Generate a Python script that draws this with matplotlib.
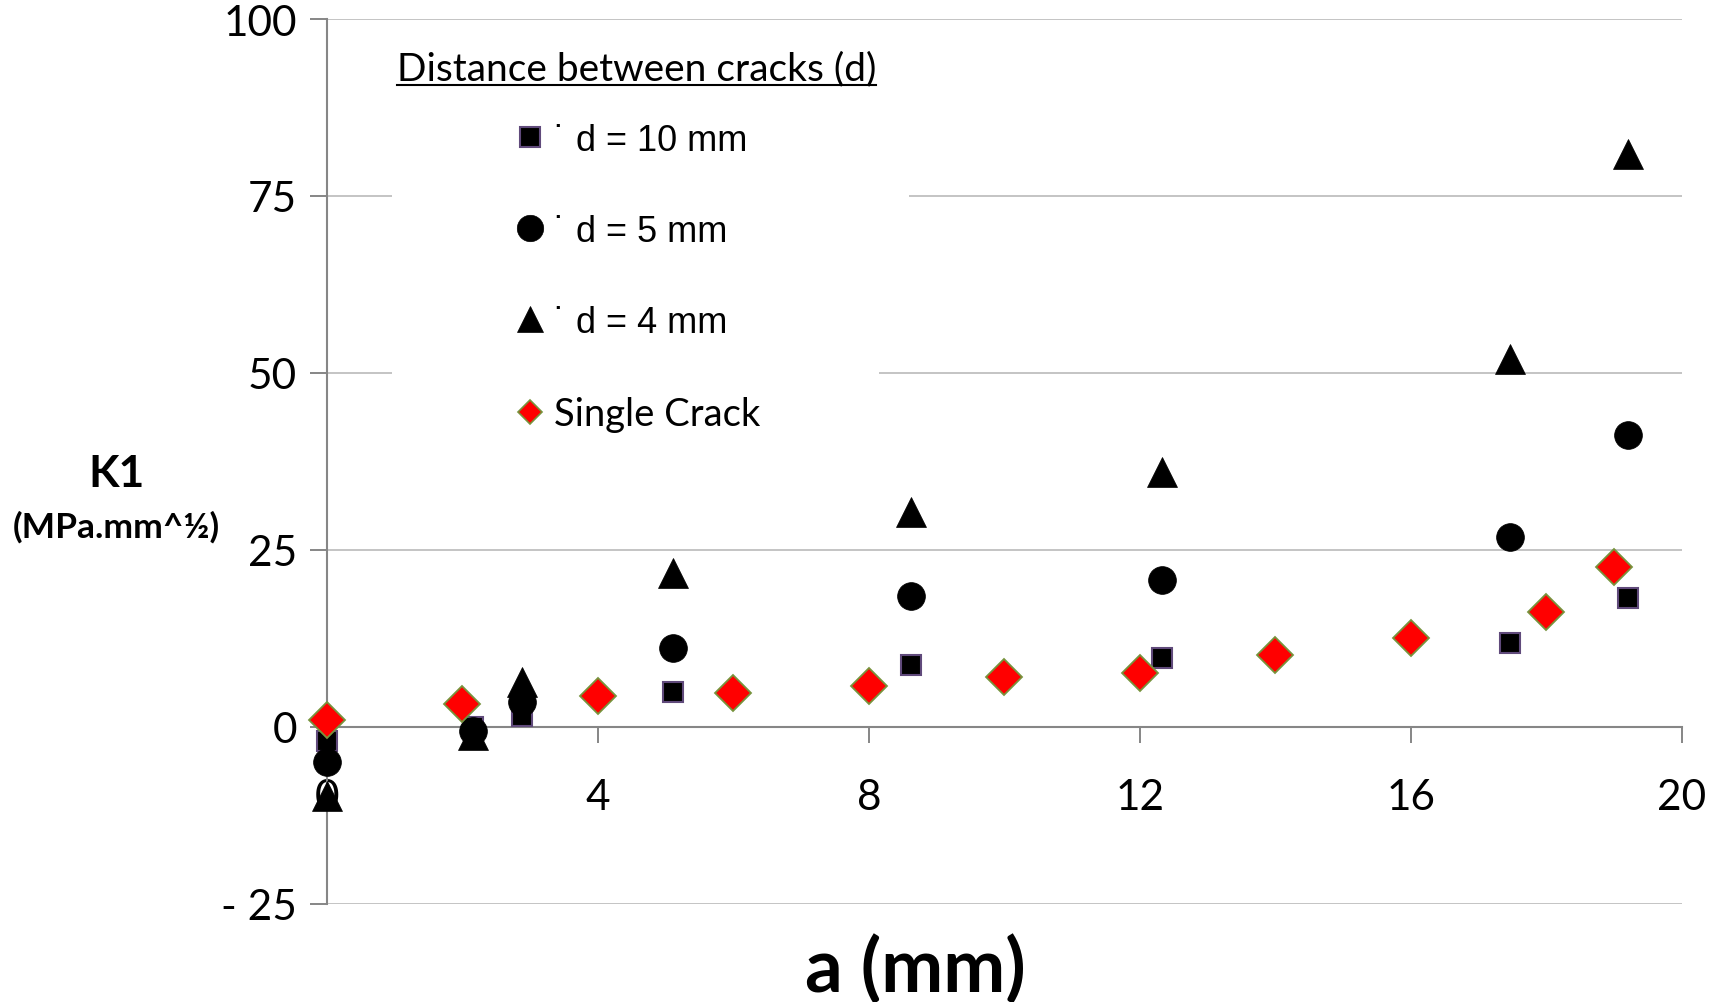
import matplotlib
matplotlib.use("Agg")
import matplotlib.pyplot as plt
from matplotlib.lines import Line2D
from matplotlib.patches import Rectangle

# ---------------- data ----------------
crack_a = [0.0, 2.16, 2.88, 5.10, 8.62, 12.33, 17.46, 19.20]
k1_d10 = [-2.0, 0.0, 1.6, 5.0, 8.8, 9.7, 11.9, 18.2]
k1_d5 = [-4.9, -0.6, 3.5, 11.1, 18.5, 20.7, 26.9, 41.2]
k1_d4 = [-9.8, -1.2, 6.4, 21.7, 30.3, 36.0, 52.0, 80.9]
single_a = [0, 2, 4, 6, 8, 10, 12, 14, 16, 18, 19]
k1_single = [1.0, 3.2, 4.4, 4.8, 5.8, 7.1, 7.6, 10.1, 12.6, 16.3, 22.6]

x_ticks = [0, 4, 8, 12, 16, 20]
x_tick_labels = ["0", "4", "8", "12", "16", "20"]
y_ticks = [-25, 0, 25, 50, 75, 100]
y_tick_labels = ["- 25", "0", "25", "50", "75", "100"]
series_labels = ["d = 10 mm", "d = 5 mm", "d = 4 mm", "Single Crack"]
legend_title = "Distance between cracks (d)"
x_label = "a (mm)"
y_label = "K1"
y_unit = "(MPa.mm^½)"

# ---------------- layout ----------------
plt.rcParams['font.family'] = ['Lato', 'DejaVu Sans']
W, H = 1731, 1003
fig = plt.figure(figsize=(W / 100, H / 100), dpi=100)


def fx(px):
    return px / W


def fy(py):
    return 1 - py / H


AX_L, AX_R, AX_T, AX_B = 327, 1682, 20, 905
ax = fig.add_axes([fx(AX_L), fy(AX_B), (AX_R - AX_L) / W, (AX_B - AX_T) / H])
ax.set_xlim(0, 20)
ax.set_ylim(-25, 100)

axis_gray = '#868686'
grid_gray = '#c4c4c4'
for s in ['top', 'right']:
    ax.spines[s].set_visible(False)
ax.spines['left'].set_color(axis_gray)
ax.spines['left'].set_linewidth(1.5)
ax.spines['bottom'].set_color(axis_gray)
ax.spines['bottom'].set_linewidth(1.5)
ax.spines['bottom'].set_position(('data', 0))

ax.set_xticks(x_ticks)
ax.set_xticklabels(x_tick_labels)
ax.set_yticks(y_ticks)
ax.set_yticklabels(y_tick_labels)
ax.tick_params(axis='x', direction='out', length=11.5, width=1.4, color=axis_gray,
               pad=25, labelsize=30.5, labelcolor='black')
ax.tick_params(axis='y', direction='out', length=12, width=1.4, color=axis_gray,
               pad=9.5, labelsize=30.5, labelcolor='black')
ax.yaxis.grid(True, color=grid_gray, linewidth=1.4)
ax.xaxis.grid(False)
ax.set_axisbelow(True)

# ---------------- data marks ----------------
ax.plot(crack_a, k1_d10, ls='none', marker='s', ms=14.5, mfc='black', mec='#604a7b',
        mew=1.5, clip_on=False, zorder=3)
ax.plot(crack_a, k1_d5, ls='none', marker='o', ms=20, mfc='black', mec='black',
        mew=0.5, clip_on=False, zorder=4)
ax.plot(crack_a, k1_d4, ls='none', marker='^', ms=22, mfc='black', mec='black',
        mew=0.5, clip_on=False, zorder=5)
ax.plot(single_a, k1_single, ls='none', marker='D', ms=18.5, mfc='#ff0000', mec='#77933c',
        mew=1.3, clip_on=False, zorder=6)

# white area behind the legend (hides gridlines like the original)
ax.add_patch(Rectangle((fx(392), fy(290)), (909 - 392) / W, (290 - 100) / H,
                       transform=fig.transFigure, facecolor='white', edgecolor='none', zorder=1))
ax.add_patch(Rectangle((fx(392), fy(400)), (879 - 392) / W, (400 - 290) / H,
                       transform=fig.transFigure, facecolor='white', edgecolor='none', zorder=1))

# ---------------- legend ----------------
handles = [
    Line2D([], [], ls='none', marker='s', ms=15, mfc='black', mec='#604a7b', mew=1.5),
    Line2D([], [], ls='none', marker='o', ms=19, mfc='black', mec='black', mew=0.5),
    Line2D([], [], ls='none', marker='^', ms=19, mfc='black', mec='black', mew=0.5),
    Line2D([], [], ls='none', marker='D', ms=12.5, mfc='#ff0000', mec='#77933c', mew=1.2),
]
labels = ["˙ " + series_labels[0], "˙ " + series_labels[1], "˙ " + series_labels[2],
          series_labels[3]]
leg = ax.legend(handles, labels, loc='upper left', bbox_to_anchor=(fx(516), fy(124)),
                bbox_transform=fig.transFigure, frameon=False, borderpad=0, borderaxespad=0,
                handlelength=0.8, handletextpad=0.24, labelspacing=1.55,
                prop={'family': ['Liberation Sans', 'DejaVu Sans'], 'size': 26})
leg_texts = leg.get_texts()
leg_texts[3].set_fontfamily(['Lato', 'DejaVu Sans'])
leg_texts[3].set_fontsize(27.5)

title = fig.text(fx(397), fy(80), legend_title, ha='left', va='baseline', fontsize=28,
                 family=['Lato', 'DejaVu Sans'])

# ---------------- axis labels ----------------
ax.set_xlabel(x_label, fontsize=53.5, fontweight='bold')
ax.xaxis.set_label_coords((915 - AX_L) / (AX_R - AX_L), (AX_B - 970) / (AX_B - AX_T))
ax.xaxis.label.set_va('center')

ax.set_ylabel(y_label, rotation=0, fontsize=32, fontweight='bold', ha='center', va='center')
ax.yaxis.set_label_coords((117 - AX_L) / (AX_R - AX_L), (AX_B - 474) / (AX_B - AX_T))
ax.text((116 - AX_L) / (AX_R - AX_L), (AX_B - 527) / (AX_B - AX_T), y_unit,
        transform=ax.transAxes, ha='center', va='center', fontsize=25.5, fontweight='bold',
        family=['Lato', 'DejaVu Sans'])

# underline for the legend title
fig.canvas.draw()
bb = title.get_window_extent(fig.canvas.get_renderer())
fig.add_artist(Line2D([bb.x0 / W, bb.x1 / W], [fy(86), fy(86)], transform=fig.transFigure,
                      color='black', lw=1.5))

fig.savefig('out.png', dpi=100)
